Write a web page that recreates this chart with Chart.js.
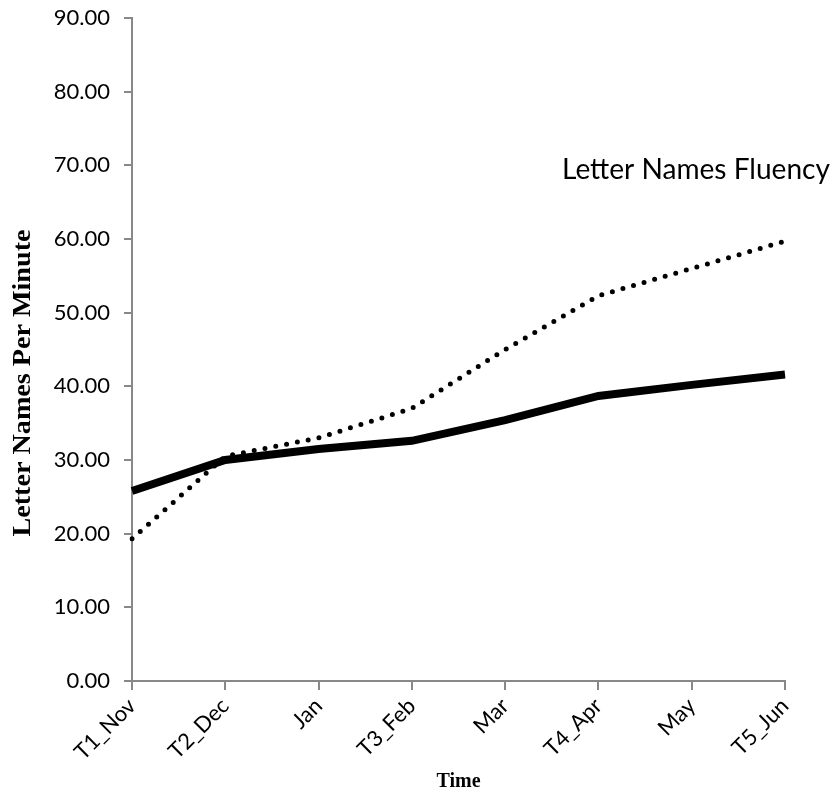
<!DOCTYPE html>
<html>
<head>
<script src="https://cdn.jsdelivr.net/npm/chart.js@4"></script>
<style>
  body { margin: 0; background: #fff; }
  #wrap { width: 837px; height: 797px; }
</style>
</head>
<body>
<div id="wrap"><canvas id="fluencyChart"></canvas></div>
<script>
  const months = ["T1_Nov", "T2_Dec", "Jan", "T3_Feb", "Mar", "T4_Apr", "May", "T5_Jun"];
  const solidSeries = [25.8, 30.0, 31.5, 32.6, 35.4, 38.7, 40.2, 41.6];
  const dottedSeries = [19.3, 30.5, 33.0, 37.0, 45.0, 52.3, 56.0, 59.7];
  const yTicks = [0, 10, 20, 30, 40, 50, 60, 70, 80, 90];
  const chartTitle = "Letter Names Fluency";
  const yTitle = "Letter Names Per Minute";

  // chart title inside the plot + stretched y axis title, like the original
  const titlePlugin = {
    id: "insideTitle",
    afterDraw(chart) {
      const ctx = chart.ctx;
      ctx.save();
      ctx.font = "31px Lato";
      const w = ctx.measureText(chartTitle).width;
      const size = Math.min(34, 31 * 268 / w);
      ctx.font = size + "px Lato";
      ctx.fillStyle = "#000";
      ctx.textAlign = "left";
      ctx.textBaseline = "middle";
      ctx.fillText(chartTitle, 562, 170);
      ctx.restore();

      ctx.save();
      ctx.font = "bold 25px 'Liberation Serif'";
      const tw = ctx.measureText(yTitle).width;
      ctx.translate(24, 383);
      ctx.rotate(-Math.PI / 2);
      ctx.scale(307 / tw, 1);
      ctx.fillStyle = "#000";
      ctx.textAlign = "center";
      ctx.textBaseline = "middle";
      ctx.fillText(yTitle, 0, 0);
      ctx.restore();
    },
  };

  const ctx = document.getElementById("fluencyChart").getContext("2d");
  const myChart = new Chart(ctx, {
    type: "line",
    data: {
      labels: months,
      datasets: [
        {
          label: "Series 1",
          data: solidSeries,
          borderColor: "#000",
          borderWidth: 8,
          pointRadius: 0,
          tension: 0,
        },
        {
          label: "Series 2",
          data: dottedSeries,
          borderColor: "#000",
          borderWidth: 5,
          borderDash: [0, 11],
          borderCapStyle: "round",
          pointRadius: 0,
          tension: 0,
        },
      ],
    },
    options: {
      responsive: true,
      maintainAspectRatio: false,
      animation: false,
      layout: { padding: { left: 0, right: 52, top: 18, bottom: 0 } },
      plugins: {
        legend: { display: false },
        tooltip: { enabled: false },
      },
      scales: {
        x: {
          offset: false,
          grid: { display: true, drawOnChartArea: false, color: "#888", tickLength: 9, lineWidth: 2 },
          border: { color: "#888", width: 2 },
          ticks: {
            color: "#000",
            font: { family: "Lato", size: 22 },
            minRotation: 45,
            maxRotation: 45,
            padding: 3,
            autoSkip: false,
          },
          title: {
            display: true,
            text: "Time",
            color: "#000",
            font: { family: "'Liberation Serif'", size: 20, weight: "bold" },
            padding: { top: 0, bottom: 3 },
          },
          afterFit(scale) { scale.height = 116; },
        },
        y: {
          min: 0,
          max: 90,
          afterBuildTicks(scale) { scale.ticks = yTicks.map((v) => ({ value: v })); },
          grid: { display: true, drawOnChartArea: false, color: "#888", tickLength: 8, lineWidth: 2 },
          border: { color: "#888", width: 2 },
          ticks: {
            color: "#000",
            font: { family: "Lato", size: 22 },
            padding: 14,
            callback: (v) => Number(v).toFixed(2),
          },
          afterFit(scale) {
            scale.width = 132;
            scale.paddingTop = 0;
            scale.paddingBottom = 0;
          },
        },
      },
    },
    plugins: [titlePlugin],
  });
</script>
</body>
</html>
